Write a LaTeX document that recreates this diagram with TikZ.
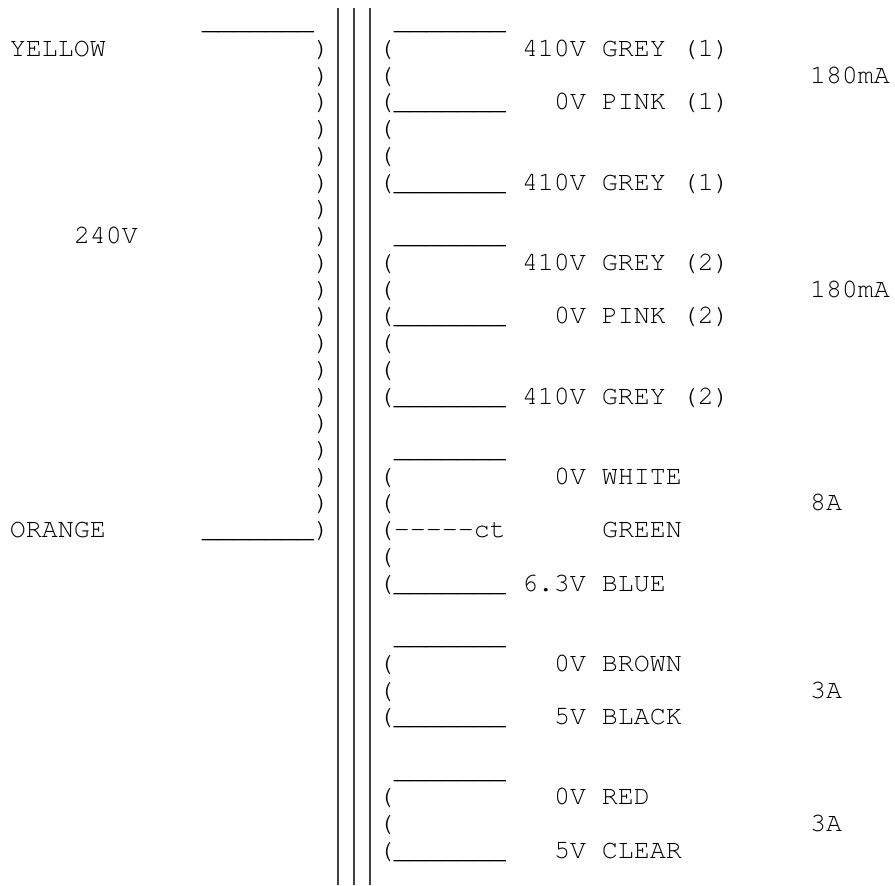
\documentclass[tikz,border=0pt]{standalone}
\usepackage[T1]{fontenc}
\newcommand\asciifont{\fontencoding{T1}\fontfamily{pcr}\fontsize{13.33}{16}\selectfont}
\newcommand\us{\_\_\_\_\_\_\_}
\tikzset{
  txt/.style={anchor=base west, inner sep=0pt, outer sep=0pt, font=\asciifont, text=black},
  core/.style={draw=black!75, line width=1pt},
}
% column c, row r -> pixel position
\newcommand\gridpos[2]{({10+16*(#1)},{29.8+26.73*(#2)})}
\begin{document}
\begin{tikzpicture}[x=0.5pt,y=-0.5pt]
\useasboundingbox[fill=white] (0,0) rectangle (895,885);
% core lines
\coordinate (c1t) at (338,8); \coordinate (c1b) at (338,885);
\coordinate (c2t) at (354,8); \coordinate (c2b) at (354,885);
\coordinate (c3t) at (370,8); \coordinate (c3b) at (370,885);
\draw[core] (c1t) -- (c1b);
\draw[core] (c2t) -- (c2b);
\draw[core] (c3t) -- (c3b);
% primary
\node[txt] (ltop) at \gridpos{12}{0} {\us};
\node[txt] (yellow) at \gridpos{0}{1} {YELLOW};
\node[txt] (p240) at \gridpos{4}{8} {240V};
\node[txt] (orange) at \gridpos{0}{19} {ORANGE};
\node[txt] (lbot) at \gridpos{12}{19} {\us};
\foreach \r in {1,...,19} {
  \node[txt] (pr\r) at \gridpos{19}{\r} {)};
}
% secondary top lines
\foreach \r in {0,8,16,23,28} {
  \node[txt] (st\r) at \gridpos{24}{\r} {\us};
}
% secondary coil marks
\foreach \r in {1,2,4,5,9,10,12,13,17,18,20,24,25,29,30} {
  \node[txt] (sc\r) at \gridpos{23}{\r} {(};
}
\foreach \r in {3,6,11,14,21,26,31} {
  \node[txt] (sc\r) at \gridpos{23}{\r} {(\us};
}
\node[txt] (sc19) at \gridpos{23}{19} {(-{}-{}-{}-{}-ct};
% labels
\node[txt] (g1a) at \gridpos{32}{1} {410V GREY (1)};
\node[txt] (i1) at \gridpos{50}{2} {180mA};
\node[txt] (k1) at \gridpos{34}{3} {0V PINK (1)};
\node[txt] (g1b) at \gridpos{32}{6} {410V GREY (1)};
\node[txt] (g2a) at \gridpos{32}{9} {410V GREY (2)};
\node[txt] (i2) at \gridpos{50}{10} {180mA};
\node[txt] (k2) at \gridpos{34}{11} {0V PINK (2)};
\node[txt] (g2b) at \gridpos{32}{14} {410V GREY (2)};
\node[txt] (wh) at \gridpos{34}{17} {0V WHITE};
\node[txt] (i3) at \gridpos{50}{18} {8A};
\node[txt] (gr) at \gridpos{37}{19} {GREEN};
\node[txt] (bl) at \gridpos{32}{21} {6.3V BLUE};
\node[txt] (br) at \gridpos{34}{24} {0V BROWN};
\node[txt] (i4) at \gridpos{50}{25} {3A};
\node[txt] (bk) at \gridpos{34}{26} {5V BLACK};
\node[txt] (rd) at \gridpos{34}{29} {0V RED};
\node[txt] (i5) at \gridpos{50}{30} {3A};
\node[txt] (cl) at \gridpos{34}{31} {5V CLEAR};
\end{tikzpicture}
\end{document}
